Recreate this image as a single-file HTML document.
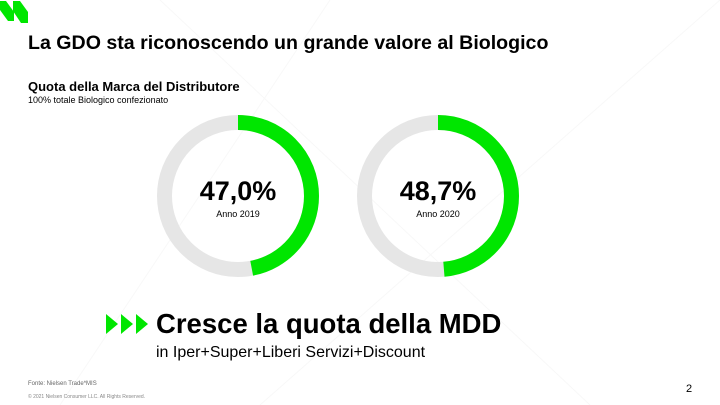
<!DOCTYPE html>
<html><head><meta charset="utf-8"><style>
body{margin:0;width:720px;height:405px;background:#fff;position:relative;overflow:hidden;font-family:"Liberation Sans",sans-serif;color:#000}
.t{position:absolute;white-space:nowrap}
</style></head><body>
<svg width="720" height="405" style="position:absolute;left:0;top:0">
<g stroke="#f8f8f8" stroke-width="1" fill="none">
<line x1="160" y1="0" x2="590" y2="405"/>
<line x1="330" y1="0" x2="60" y2="405"/>
<line x1="260" y1="405" x2="720" y2="0"/>
</g>
<polygon points="0,1 6,1 14,12 14,21 8,21 0,10" fill="#00e600"/>
<polygon points="13,1 20,1 28,12 28,23 21,23 13,11" fill="#00e600"/>
<circle cx="238" cy="196" r="73.5" fill="none" stroke="#e6e6e6" stroke-width="15"/>
<circle cx="238" cy="196" r="73.5" fill="none" stroke="#00e600" stroke-width="15" stroke-dasharray="217.05 500" transform="rotate(-90 238 196)"/>
<circle cx="438" cy="196" r="73.5" fill="none" stroke="#e6e6e6" stroke-width="15"/>
<circle cx="438" cy="196" r="73.5" fill="none" stroke="#00e600" stroke-width="15" stroke-dasharray="224.9 500" transform="rotate(-90 438 196)"/>
<polygon points="106,314 118,324 106,334" fill="#00e600"/>
<polygon points="121,314 133,324 121,334" fill="#00e600"/>
<polygon points="136,314 148,324 136,334" fill="#00e600"/>
</svg>
<div class="t" style="left:28px;top:32px;font-size:19.6px;font-weight:bold">La GDO sta riconoscendo un grande valore al Biologico</div>
<div class="t" style="left:28px;top:79px;font-size:13px;font-weight:bold">Quota della Marca del Distributore</div>
<div class="t" style="left:28px;top:95px;font-size:9px">100% totale Biologico confezionato</div>
<div class="t" style="left:188px;top:176px;width:100px;text-align:center;font-size:27px;font-weight:bold">47,0%</div>
<div class="t" style="left:188px;top:209px;width:100px;text-align:center;font-size:9px">Anno 2019</div>
<div class="t" style="left:388px;top:176px;width:100px;text-align:center;font-size:27px;font-weight:bold">48,7%</div>
<div class="t" style="left:388px;top:209px;width:100px;text-align:center;font-size:9px">Anno 2020</div>
<div class="t" style="left:156px;top:308px;font-size:27.5px;font-weight:bold">Cresce la quota della MDD</div>
<div class="t" style="left:156px;top:344px;font-size:16px">in Iper+Super+Liberi Servizi+Discount</div>
<div class="t" style="left:28px;top:381px;font-size:6px;color:#666">Fonte: Nielsen Trade*MIS</div>
<div class="t" style="left:28px;top:394px;font-size:5px;color:#888">© 2021 Nielsen Consumer LLC. All Rights Reserved.</div>
<div class="t" style="left:686px;top:383px;font-size:11px">2</div>
</body></html>
